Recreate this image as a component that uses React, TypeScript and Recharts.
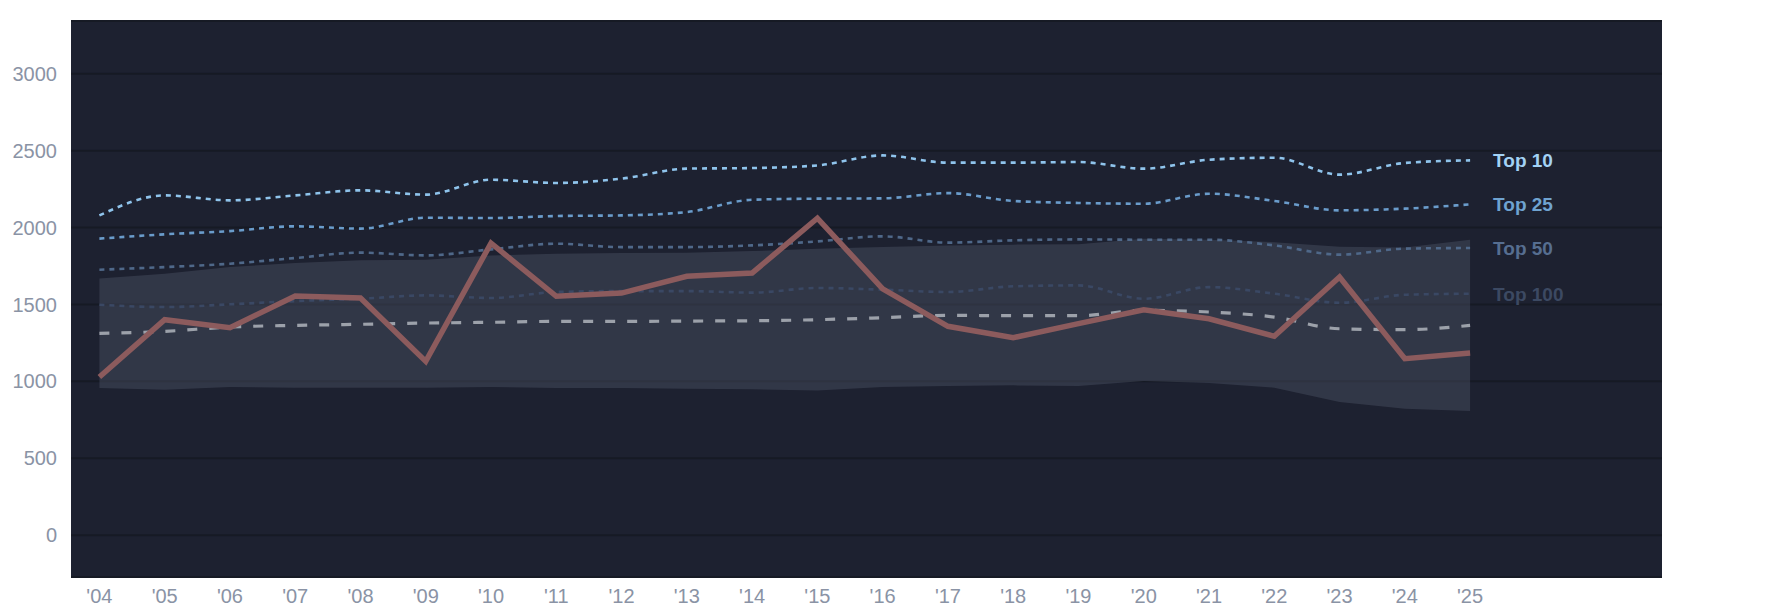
import { Area, CartesianGrid, ComposedChart, Line, XAxis, YAxis } from 'recharts';

// 2004〜2025 の年次データ
const years = [
  2004, 2005, 2006, 2007, 2008, 2009, 2010, 2011, 2012, 2013, 2014,
  2015, 2016, 2017, 2018, 2019, 2020, 2021, 2022, 2023, 2024, 2025,
];
const top10 = [
  2079, 2209, 2177, 2209, 2242, 2214, 2311, 2290, 2318, 2383, 2387,
  2404, 2469, 2422, 2422, 2426, 2383, 2441, 2454, 2344, 2420, 2437,
];
const top25 = [
  1928, 1956, 1977, 2008, 1993, 2064, 2062, 2075, 2079, 2101, 2181,
  2188, 2190, 2224, 2173, 2160, 2155, 2220, 2173, 2112, 2123, 2151,
];
const top50 = [
  1726, 1743, 1765, 1802, 1837, 1819, 1858, 1895, 1873, 1873, 1884,
  1910, 1943, 1902, 1917, 1923, 1921, 1921, 1884, 1824, 1863, 1867,
];
const top100 = [
  1498, 1483, 1501, 1522, 1537, 1559, 1542, 1581, 1587, 1587, 1577,
  1607, 1596, 1581, 1618, 1624, 1537, 1613, 1570, 1511, 1563, 1570,
];
const median = [
  1312, 1325, 1353, 1364, 1371, 1379, 1384, 1390, 1390, 1392, 1394,
  1401, 1414, 1429, 1427, 1427, 1462, 1451, 1418, 1342, 1336, 1364,
];
const bandHigh = [
  1668, 1700, 1743, 1769, 1787, 1791, 1819, 1830, 1834, 1837, 1847,
  1863, 1873, 1884, 1889, 1891, 1928, 1921, 1905, 1875, 1870, 1921,
];
const bandLow = [
  957, 946, 963, 959, 959, 959, 963, 957, 957, 952, 948,
  941, 963, 970, 974, 970, 1002, 989, 959, 866, 822, 807,
];
const team = [
  1028, 1401, 1349, 1555, 1542, 1130, 1899, 1553, 1574, 1683, 1704,
  2061, 1602, 1358, 1284, 1375, 1466, 1407, 1293, 1678, 1147, 1184,
];
const yTicks = [0, 500, 1000, 1500, 2000, 2500, 3000];

const data = years.map((year, i) => ({
  year,
  top10: top10[i],
  top25: top25[i],
  top50: top50[i],
  top100: top100[i],
  median: median[i],
  band: [bandLow[i], bandHigh[i]],
  team: team[i],
}));

const FONT = '"Liberation Sans", Arial, sans-serif';
const LAST = years.length - 1;

// 最終点の右側に "Top N" ラベルだけ出す
const endLabel = (text: string, color: string) => (p: any) =>
  p.index === LAST ? (
    <text
      x={p.x + 23}
      y={p.y}
      dy="0.36em"
      fill={color}
      fontSize={19}
      fontWeight={700}
      fontFamily={FONT}
    >
      {text}
    </text>
  ) : null;

const tiers = [
  { key: 'top100', label: 'Top 100', line: '#3a4864', text: '#3c4962' },
  { key: 'top50', label: 'Top 50', line: '#4f6889', text: '#566e90' },
  { key: 'top25', label: 'Top 25', line: '#6a9ccb', text: '#6fa3d0' },
  { key: 'top10', label: 'Top 10', line: '#8fc4ec', text: '#a3d2f5' },
];

export default function App() {
  const tick = { fill: '#8a93a5', fontSize: 20, fontFamily: FONT };
  return (
    <div style={{ position: 'absolute', left: 0, top: 0, width: 1785, height: 614, background: '#fff' }}>
      <ComposedChart
        width={1785}
        height={614}
        data={data}
        margin={{ top: 21, right: 123, bottom: 0, left: 0 }}
      >
        <CartesianGrid
          vertical={false}
          fill="#1d2130"
          fillOpacity={1}
          stroke="#161a24"
          strokeWidth={2}
        />
        <XAxis
          dataKey="year"
          type="number"
          domain={[2003.565, 2027.94]}
          allowDataOverflow
          ticks={years}
          interval={0}
          tickFormatter={(y: number) => `'${String(y).slice(2)}`}
          height={37}
          tickSize={0}
          tickMargin={12}
          axisLine={false}
          tick={tick}
        />
        <YAxis
          domain={[-272, 3343]}
          allowDataOverflow
          ticks={yTicks}
          width={71}
          tickSize={0}
          tickMargin={14}
          axisLine={false}
          tick={tick}
        />
        <Area
          dataKey="band"
          type="linear"
          stroke="none"
          fill="#4c5263"
          fillOpacity={0.45}
          isAnimationActive={false}
          activeDot={false}
        />
        {tiers.map((t) => (
          <Line
            key={t.key}
            dataKey={t.key}
            type="monotone"
            stroke={t.line}
            strokeWidth={2.6}
            strokeDasharray="5 5"
            dot={false}
            activeDot={false}
            label={endLabel(t.label, t.text)}
            isAnimationActive={false}
          />
        ))}
        <Line
          dataKey="median"
          type="monotone"
          stroke="#9ca1aa"
          strokeWidth={3.2}
          strokeDasharray="10 12"
          dot={false}
          activeDot={false}
          isAnimationActive={false}
        />
        <Line
          dataKey="team"
          type="linear"
          stroke="#8c5b5d"
          strokeWidth={5.5}
          dot={false}
          activeDot={false}
          isAnimationActive={false}
        />
      </ComposedChart>
    </div>
  );
}
